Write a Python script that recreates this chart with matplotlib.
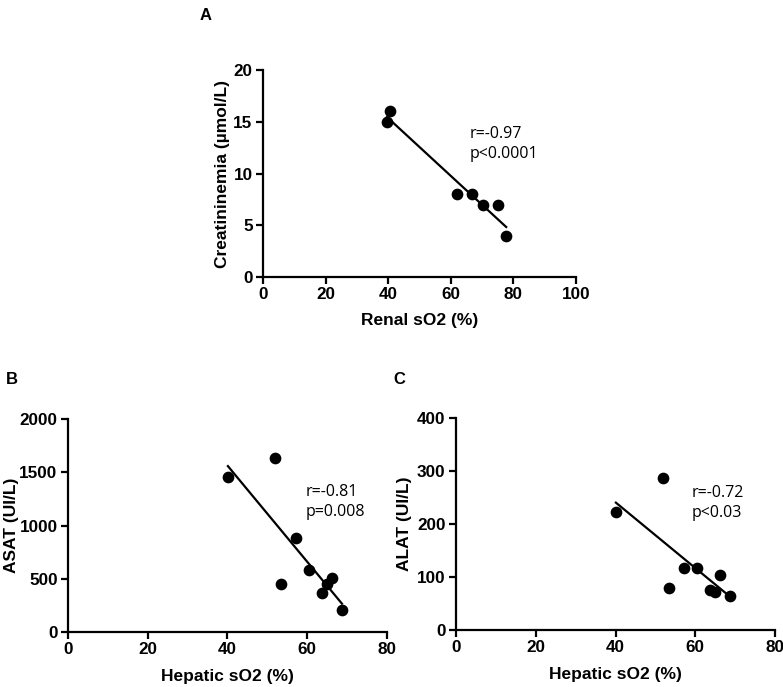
import numpy as np
import matplotlib
matplotlib.use("Agg")
import matplotlib.pyplot as plt

plt.rcParams['font.family'] = ['Liberation Sans', 'DejaVu Sans']

# Panel A data
renal_so2 = [39.6, 40.6, 62.0, 66.8, 70.3, 75.1, 77.7]
creatinine = [15, 16, 8, 8, 7, 7, 4]

# Panels B & C data
hepatic_so2 = [40.1, 52.0, 53.3, 57.3, 60.4, 63.6, 64.9, 66.1, 68.7]
asat = [1457, 1636, 455, 885, 584, 364, 449, 505, 210]
alat = [222, 286, 80, 117, 117, 75, 72, 103, 65]

W, H = 783, 687
fig = plt.figure(figsize=(W / 100, H / 100), dpi=100)

def add_ax(left, top, right, bottom):
    return fig.add_axes([left / W, 1 - bottom / H, (right - left) / W, (bottom - top) / H])

def style(ax, xlim, ylim, xticks, yticks, xlabel, ylabel, xl_pos, yl_pos):
    ax.set_xlim(*xlim)
    ax.set_ylim(*ylim)
    ax.set_xticks(xticks)
    ax.set_yticks(yticks)
    for s in ['top', 'right']:
        ax.spines[s].set_visible(False)
    for s in ['left', 'bottom']:
        ax.spines[s].set_linewidth(1.6)
    ax.tick_params(direction='out', length=5, width=1.6, labelsize=12.3, pad=2.5)
    for lab in ax.get_xticklabels() + ax.get_yticklabels():
        lab.set_fontweight('bold')
    ax.set_xlabel(xlabel, fontsize=12.5, fontweight='bold')
    ax.set_ylabel(ylabel, fontsize=12.5, fontweight='bold')
    ax.xaxis.set_label_coords(0.5, xl_pos)
    ax.yaxis.set_label_coords(yl_pos, 0.5)
    ax.xaxis.label.set_va('center')
    ax.yaxis.label.set_va('center')

def scatter_fit(ax, x, y):
    x = np.asarray(x, float)
    y = np.asarray(y, float)
    ax.scatter(x, y, s=55, color='black', zorder=3, clip_on=False)
    k, b = np.polyfit(x, y, 1)
    xs = np.array([x.min(), x.max()])
    ax.plot(xs, k * xs + b, color='black', lw=1.6)

# Panel A
axA = add_ax(263, 70, 576, 277)
scatter_fit(axA, renal_so2, creatinine)
style(axA, (0, 100), (0, 20), [0, 20, 40, 60, 80, 100], [0, 5, 10, 15, 20],
      'Renal sO2 (%)', 'Creatininemia (µmol/L)', -0.208, -0.128)
axA.text(66.0, 14.6, 'r=-0.97\np<0.0001', fontsize=11.5, va='top', ha='left',
         linespacing=1.35, family=['Open Sans', 'DejaVu Sans'])

# Panel B
axB = add_ax(68, 419, 387, 632)
scatter_fit(axB, hepatic_so2, asat)
style(axB, (0, 80), (0, 2000), [0, 20, 40, 60, 80], [0, 500, 1000, 1500, 2000],
      'Hepatic sO2 (%)', 'ASAT (UI/L)', -0.211, -0.176)
axB.text(59.6, 1390, 'r=-0.81\np=0.008', fontsize=11.5, va='top', ha='left',
         linespacing=1.35, family=['Open Sans', 'DejaVu Sans'])

# Panel C
axC = add_ax(456, 418, 775, 630)
scatter_fit(axC, hepatic_so2, alat)
style(axC, (0, 80), (0, 400), [0, 20, 40, 60, 80], [0, 100, 200, 300, 400],
      'Hepatic sO2 (%)', 'ALAT (UI/L)', -0.212, -0.16)
axC.text(59.1, 274, 'r=-0.72\np<0.03', fontsize=11.5, va='top', ha='left',
         linespacing=1.35, family=['Open Sans', 'DejaVu Sans'])

# Panel letters
fig.text(200 / W, 1 - 16 / H, 'A', fontsize=12, fontweight='bold', va='center', ha='left')
fig.text(6 / W, 1 - 380 / H, 'B', fontsize=12, fontweight='bold', va='center', ha='left')
fig.text(393 / W, 1 - 380 / H, 'C', fontsize=12, fontweight='bold', va='center', ha='left')

fig.savefig('out.png', dpi=100)
